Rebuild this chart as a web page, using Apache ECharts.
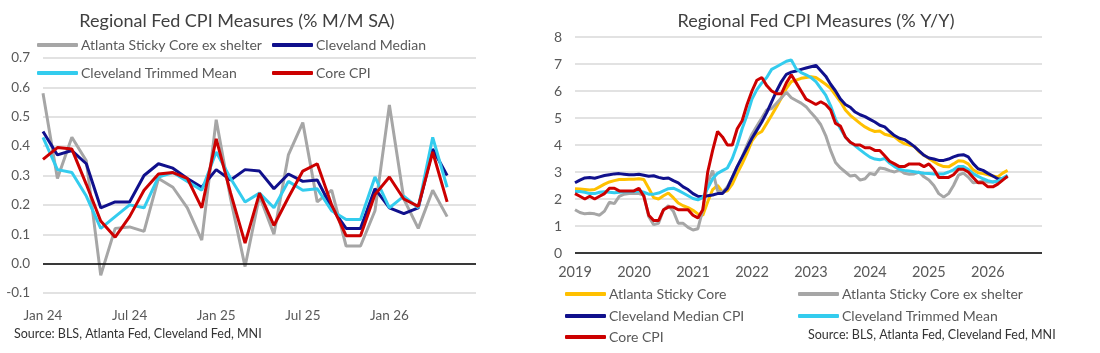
<!DOCTYPE html>
<html>
<head>
<meta charset="utf-8">
<script src="https://cdn.jsdelivr.net/npm/echarts@6/dist/echarts.min.js"></script>
<style>
  html, body { margin: 0; padding: 0; background: #fff; }
  #wrap { width: 1100px; height: 353px; display: flex; }
  #mm, #yy { width: 550px; height: 353px; }
</style>
</head>
<body>
<div id="wrap"><div id="mm"></div><div id="yy"></div></div>
<script>
// ---- M/M chart data (Jan 24 - May 26) ----
const mmMonths = [
  'Jan 24','Feb 24','Mar 24','Apr 24','May 24','Jun 24','Jul 24','Aug 24','Sep 24','Oct 24','Nov 24','Dec 24',
  'Jan 25','Feb 25','Mar 25','Apr 25','May 25','Jun 25','Jul 25','Aug 25','Sep 25','Oct 25','Nov 25','Dec 25',
  'Jan 26','Feb 26','Mar 26','Apr 26','May 26','Jun 26','Jul 26'
];
const mmStickyExShelter = [0.58,0.29,0.43,0.35,-0.04,0.12,0.125,0.11,0.29,0.26,0.19,0.08,0.49,0.22,-0.01,0.23,0.10,0.37,0.48,0.21,0.25,0.06,0.06,0.18,0.54,0.22,0.12,0.25,0.16];
const mmMedian = [0.45,0.37,0.385,0.34,0.19,0.21,0.21,0.30,0.34,0.325,0.29,0.26,0.32,0.285,0.32,0.315,0.255,0.305,0.28,0.285,0.19,0.12,0.12,0.255,0.19,0.17,0.19,0.39,0.30];
const mmTrimmed = [0.43,0.32,0.31,0.23,0.12,0.16,0.20,0.19,0.295,0.31,0.28,0.25,0.38,0.29,0.21,0.24,0.19,0.28,0.25,0.255,0.18,0.15,0.15,0.295,0.19,0.23,0.19,0.43,0.26];
const mmCore = [0.355,0.395,0.39,0.27,0.145,0.09,0.16,0.25,0.305,0.31,0.29,0.19,0.425,0.24,0.07,0.24,0.13,0.225,0.315,0.34,0.20,0.095,0.095,0.235,0.295,0.22,0.195,0.38,0.21];

// ---- Y/Y chart data (Jan 2019 - May 2026) ----
const yyMonths = [
  '2019-01','2019-02','2019-03','2019-04','2019-05','2019-06','2019-07','2019-08','2019-09','2019-10','2019-11','2019-12',
  '2020-01','2020-02','2020-03','2020-04','2020-05','2020-06','2020-07','2020-08','2020-09','2020-10','2020-11','2020-12',
  '2021-01','2021-02','2021-03','2021-04','2021-05','2021-06','2021-07','2021-08','2021-09','2021-10','2021-11','2021-12',
  '2022-01','2022-02','2022-03','2022-04','2022-05','2022-06','2022-07','2022-08','2022-09','2022-10','2022-11','2022-12',
  '2023-01','2023-02','2023-03','2023-04','2023-05','2023-06','2023-07','2023-08','2023-09','2023-10','2023-11','2023-12',
  '2024-01','2024-02','2024-03','2024-04','2024-05','2024-06','2024-07','2024-08','2024-09','2024-10','2024-11','2024-12',
  '2025-01','2025-02','2025-03','2025-04','2025-05','2025-06','2025-07','2025-08','2025-09','2025-10','2025-11','2025-12',
  '2026-01','2026-02','2026-03','2026-04','2026-05','2026-06','2026-07','2026-08','2026-09','2026-10','2026-11','2026-12'
];
const yySticky = [
  2.38,2.37,2.35,2.33,2.35,2.45,2.55,2.63,2.68,2.72,2.72,2.73,
  2.73,2.75,2.72,2.40,2.05,2.00,2.12,2.22,2.05,1.85,1.75,1.68,
  1.58,1.45,1.40,1.90,2.35,2.50,2.25,2.30,2.55,2.95,3.30,3.70,
  4.15,4.40,4.50,4.80,5.10,5.42,5.75,6.10,6.35,6.40,6.47,6.50,
  6.53,6.50,6.38,6.25,6.10,5.85,5.60,5.30,5.10,4.95,4.80,4.67,
  4.57,4.50,4.52,4.40,4.35,4.30,4.15,4.05,4.00,3.95,3.75,3.62,
  3.50,3.38,3.27,3.20,3.19,3.30,3.42,3.40,3.30,3.08,2.97,2.94,
  2.90,2.85,2.82,2.96,3.06
];
const yyStickyExShelter = [
  1.60,1.50,1.45,1.47,1.45,1.40,1.55,1.88,1.83,2.10,2.18,2.20,
  2.20,2.20,2.15,1.35,1.05,1.10,1.60,1.75,1.55,1.10,1.10,0.95,
  0.85,0.90,1.60,2.60,3.05,2.30,2.25,2.45,2.80,3.20,3.55,4.00,
  4.40,4.70,5.00,5.30,5.35,5.55,5.75,5.95,5.75,5.65,5.55,5.42,
  5.20,5.00,4.75,4.35,3.80,3.35,3.15,3.00,2.85,2.88,2.70,2.75,
  2.95,2.90,3.15,3.12,3.05,3.00,3.08,2.95,2.92,2.93,3.00,2.82,
  2.70,2.50,2.20,2.07,2.20,2.50,2.88,2.96,2.81,2.60,2.62,2.68,
  2.63,2.63,2.68,2.75,2.82
];
const yyMedian = [
  2.60,2.70,2.78,2.80,2.77,2.82,2.87,2.90,2.93,2.94,2.92,2.90,
  2.90,2.92,2.88,2.84,2.86,2.80,2.76,2.78,2.68,2.60,2.45,2.35,
  2.20,2.10,2.08,2.12,2.15,2.20,2.20,2.40,2.80,3.20,3.55,3.90,
  4.25,4.55,4.85,5.20,5.60,6.00,6.35,6.62,6.70,6.74,6.80,6.85,
  6.90,6.95,6.75,6.55,6.25,6.00,5.70,5.50,5.40,5.22,5.12,5.05,
  4.95,4.85,4.73,4.67,4.50,4.35,4.25,4.20,4.08,3.95,3.78,3.62,
  3.52,3.48,3.43,3.43,3.48,3.56,3.62,3.64,3.56,3.31,3.12,3.06,
  2.95,2.85,2.75,2.74,2.85
];
const yyTrimmed = [
  2.28,2.28,2.25,2.20,2.20,2.25,2.27,2.25,2.23,2.25,2.27,2.27,
  2.28,2.30,2.25,2.18,2.18,2.22,2.30,2.38,2.40,2.32,2.22,2.12,
  2.02,1.97,2.05,2.40,2.75,2.95,3.05,3.15,3.50,4.00,4.60,5.10,
  5.70,6.05,6.30,6.50,6.80,6.90,7.00,7.10,7.15,6.82,6.68,6.60,
  6.50,6.35,6.10,5.85,5.45,4.95,4.60,4.30,4.10,3.97,3.82,3.68,
  3.55,3.48,3.45,3.50,3.33,3.20,3.10,3.06,3.04,3.01,2.98,2.95,
  2.94,2.93,2.93,2.93,3.00,3.08,3.20,3.20,3.10,2.94,2.84,2.75,
  2.68,2.63,2.66,2.78,2.88
];
const yyCore = [
  2.2,2.1,2.0,2.1,2.0,2.1,2.2,2.4,2.4,2.3,2.3,2.3,
  2.3,2.4,2.1,1.4,1.2,1.2,1.6,1.7,1.7,1.6,1.6,1.6,
  1.4,1.3,1.6,3.0,3.8,4.5,4.3,4.0,4.0,4.6,4.9,5.5,
  6.0,6.4,6.5,6.2,6.0,5.9,5.9,6.3,6.6,6.3,6.0,5.7,
  5.6,5.5,5.6,5.5,5.3,4.8,4.7,4.3,4.1,4.0,4.0,3.9,
  3.9,3.8,3.8,3.6,3.4,3.3,3.2,3.2,3.3,3.3,3.3,3.2,
  3.3,3.1,2.8,2.8,2.8,2.9,3.1,3.1,3.0,2.8,2.6,2.6,
  2.45,2.45,2.55,2.7,2.85
];

const FONT = 'Lato, "Noto Sans", sans-serif';
const GREY = '#A6A6A6', NAVY = '#10108C', CYAN = '#33CCEE', RED = '#CC0000', GOLD = '#FFC000';
const TXT = '#595959';

function legendAt(name, color, left, top) {
  return {
    data: [{ name: name, itemStyle: { color: color } }],
    left: left, top: top,
    icon: 'roundRect', itemWidth: 41, itemHeight: 4,
    selectedMode: false, padding: 0,
    textStyle: { color: TXT, fontSize: 14, fontFamily: FONT, padding: [0, 0, 0, -2] }
  };
}

function lineSeries(name, color, data) {
  return {
    name: name, type: 'line', data: data,
    showSymbol: false, symbol: 'none',
    lineStyle: { color: color, width: 3 },
    itemStyle: { color: color }
  };
}

const zeroLine = {
  silent: true, symbol: 'none', label: { show: false },
  lineStyle: { color: '#000', width: 1.5, type: 'solid' },
  data: [{ yAxis: 0 }]
};

// ---- left chart ----
const mm = echarts.init(document.getElementById('mm'));
const mmSeries = [
  lineSeries('Atlanta Sticky Core ex shelter', GREY, mmStickyExShelter),
  lineSeries('Cleveland Median', NAVY, mmMedian),
  lineSeries('Cleveland Trimmed Mean', CYAN, mmTrimmed),
  lineSeries('Core CPI', RED, mmCore)
];
mmSeries[0].markLine = zeroLine;
mm.setOption({
  animation: false,
  title: {
    text: 'Regional Fed CPI Measures (% M/M SA)',
    left: 232, top: 7, textAlign: 'center',
    textStyle: { color: '#404040', fontSize: 18, fontWeight: 'normal', fontFamily: FONT }
  },
  legend: [
    legendAt('Atlanta Sticky Core ex shelter', GREY, 37, 38),
    legendAt('Cleveland Median', NAVY, 272, 38),
    legendAt('Cleveland Trimmed Mean', CYAN, 37, 66),
    legendAt('Core CPI', RED, 272, 66)
  ],
  grid: { left: 43, right: 74, top: 58, bottom: 60 },
  xAxis: {
    type: 'category', data: mmMonths, boundaryGap: false,
    axisLine: { show: false }, axisTick: { show: false },
    axisLabel: {
      color: TXT, fontSize: 13.5, fontFamily: FONT, margin: 16,
      interval: (i) => i % 6 === 0 && i < 30
    }
  },
  yAxis: {
    type: 'value', min: -0.1, max: 0.7, interval: 0.1,
    axisLabel: { color: TXT, fontSize: 13.5, fontFamily: FONT, margin: 13, formatter: (v) => v.toFixed(1) },
    splitLine: { lineStyle: { color: '#D9D9D9', width: 1.5 } }
  },
  graphic: [{
    type: 'text', left: 14, top: 327,
    style: { text: 'Source: BLS, Atlanta Fed, Cleveland Fed, MNI', fill: '#333', fontSize: 12.5, fontFamily: FONT }
  }],
  series: mmSeries
});

// ---- right chart ----
const yy = echarts.init(document.getElementById('yy'));
const yySeries = [
  lineSeries('Atlanta Sticky Core', GOLD, yySticky),
  lineSeries('Atlanta Sticky Core ex shelter', GREY, yyStickyExShelter),
  lineSeries('Cleveland Median CPI', NAVY, yyMedian),
  lineSeries('Cleveland Trimmed Mean', CYAN, yyTrimmed),
  lineSeries('Core CPI', RED, yyCore)
];
yySeries[0].markLine = zeroLine;
yy.setOption({
  animation: false,
  title: {
    text: 'Regional Fed CPI Measures (% Y/Y)',
    left: 261, top: 7, textAlign: 'center',
    textStyle: { color: '#404040', fontSize: 18, fontWeight: 'normal', fontFamily: FONT }
  },
  legend: [
    legendAt('Atlanta Sticky Core', GOLD, 15, 287),
    legendAt('Atlanta Sticky Core ex shelter', GREY, 248, 287),
    legendAt('Cleveland Median CPI', NAVY, 15, 309),
    legendAt('Cleveland Trimmed Mean', CYAN, 248, 309),
    legendAt('Core CPI', RED, 15, 330)
  ],
  grid: { left: 25, right: 58, top: 37, bottom: 100 },
  xAxis: {
    type: 'category', data: yyMonths, boundaryGap: false,
    axisLine: { show: false }, axisTick: { show: false },
    axisLabel: {
      color: TXT, fontSize: 14.5, fontFamily: FONT, margin: 12,
      interval: (i) => i % 12 === 0,
      formatter: (v) => v.slice(0, 4)
    }
  },
  yAxis: {
    type: 'value', min: 0, max: 8, interval: 1,
    axisLabel: { color: TXT, fontSize: 14, fontFamily: FONT, margin: 13 },
    splitLine: { lineStyle: { color: '#D9D9D9', width: 1.5 } }
  },
  graphic: [{
    type: 'text', left: 258, top: 328,
    style: { text: 'Source: BLS, Atlanta Fed, Cleveland Fed, MNI', fill: '#333', fontSize: 12.5, fontFamily: FONT }
  }],
  series: yySeries
});
</script>
</body>
</html>
